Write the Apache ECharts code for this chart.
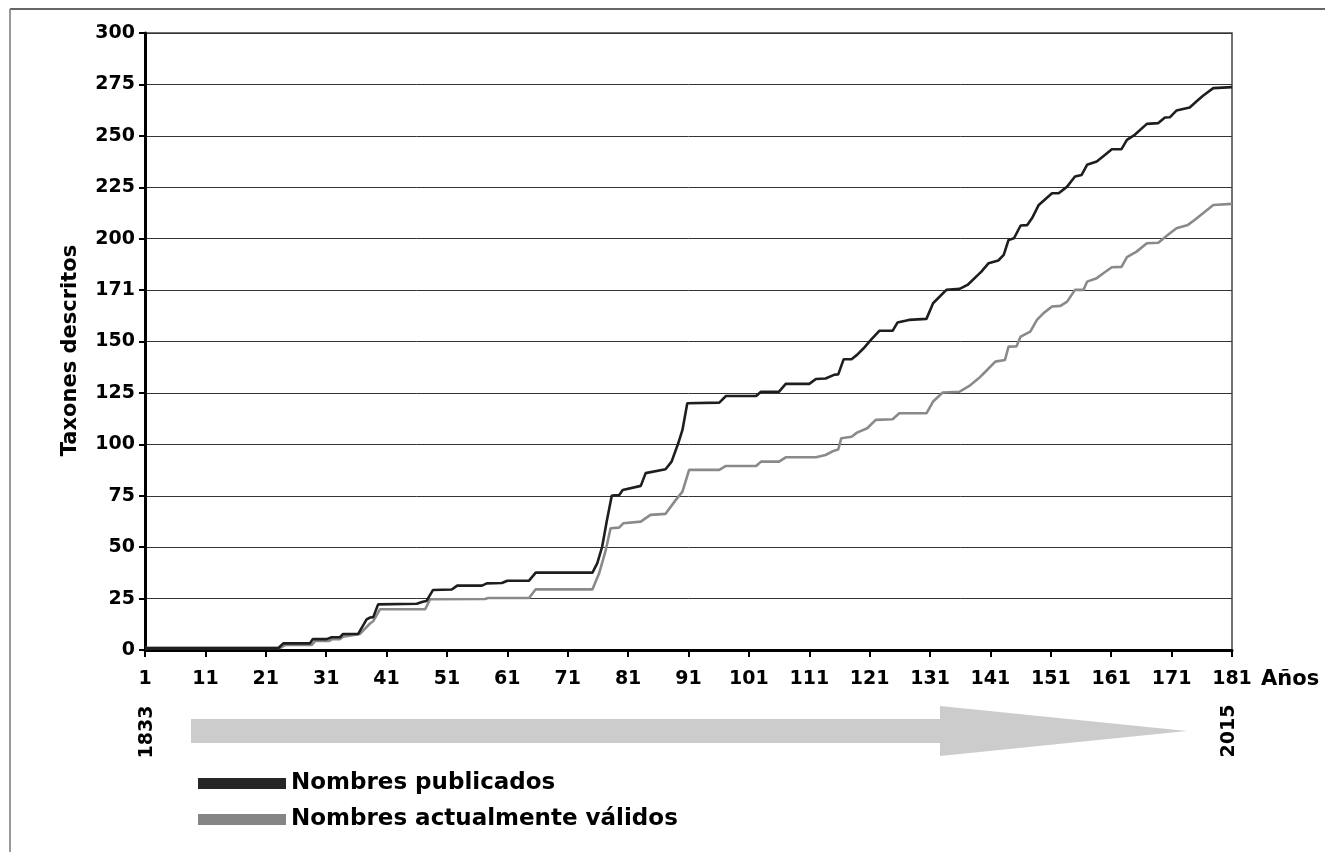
<!DOCTYPE html>
<html>
<head>
<meta charset="utf-8">
<script src="https://cdn.jsdelivr.net/npm/echarts@6/dist/echarts.min.js"></script>
<style>
html,body{margin:0;padding:0;background:#fff;}
#chart{width:1325px;height:852px;}
</style>
</head>
<body>
<div id="chart"></div>
<script>
// Year index (1 = 1833 ... 181) and cumulative taxa
const publicadosYears = [1,23.1,23.9,28.3,28.8,31.1,31.9,33.3,33.8,36.3,37.7,38.3,38.8,39.6,46,47,47.6,48.7,51.8,52.7,56.8,57.6,60.1,61,64.6,65.7,75.1,75.9,76.7,77.5,78.3,79.5,80.1,83.1,83.9,87.2,88.2,89.3,90,90.8,96.1,97.2,102.2,103,106,107.1,111,112.1,113.7,115.1,115.8,116.7,118,118.9,120,121.2,122.6,124.8,125.6,127.5,130.4,131.5,133.7,135.9,137.2,139.5,140.7,142.3,143.2,144,144.9,146,147.1,147.9,149,151.2,152.3,153.7,155,156.1,157,158.6,160,161.1,162.7,163.6,164.9,166.9,168.8,169.9,170.7,171.8,174,175.1,176.2,177.9,181];
const publicadosValues = [1,1,3.2,3.2,5.3,5.3,6.2,6.2,7.8,7.8,14.9,15.8,16,22.2,22.5,23.5,23.8,29.2,29.4,31.3,31.3,32.4,32.6,33.7,33.7,37.6,37.6,42.2,50.2,63.2,75.1,75.3,77.8,79.8,86,87.9,91.6,100.5,107,120,120.3,123.5,123.5,125.6,125.6,129.4,129.4,131.8,132,133.8,134,141.4,141.4,143.5,146.7,150.8,155.2,155.2,159.2,160.5,161,168.6,175.1,175.6,177.5,184,188.1,189.4,192.1,199.4,200.2,206.4,206.6,210,216.4,222.1,222.1,225.3,230.2,231,235.9,237.5,240.8,243.5,243.5,248,250.5,255.8,256.2,258.9,259,262.3,263.8,266.7,269.5,273.2,273.7];

const validosYears = [1,23.4,24.2,28.6,29.2,31.5,32,33.3,33.8,36.6,38.3,38.8,39.9,47.4,48.2,57.3,57.8,64.6,65.7,75.1,76.2,77.3,78.1,79.5,80.2,83.1,84.7,87.2,88.9,90,91.1,96.1,97.2,102.2,103,106,107.1,112.1,113.7,115.1,115.8,116.3,118,118.9,120.6,122,124.8,125.9,130.4,131.5,133.1,135.9,137.5,139.1,140.2,141.8,143.4,144,145.3,146,147.6,148.7,149.8,151.2,152.6,153.7,155,156.4,157,158.6,159.7,161.1,162.7,163.6,165.2,166.9,168.8,170.2,171.8,173.7,174.8,176.2,177.9,181];
const validosValues = [1,1,2.4,2.4,4.4,4.4,5.3,5.3,6.5,7.8,13,14,19.8,19.8,24.7,24.8,25.3,25.3,29.5,29.5,37.3,48.6,59.2,59.5,61.6,62.4,65.7,66.2,73,77,87.6,87.6,89.5,89.5,91.6,91.6,93.7,93.7,94.8,96.9,97.5,103,103.7,105.7,107.8,111.9,112.2,115.1,115.1,120.8,125.2,125.6,128.4,132.2,135.4,140.2,141,147.5,147.6,152.4,154.8,160.5,163.8,167,167.3,169.4,175.1,175.1,179.1,180.8,183.2,186.1,186.3,191,193.7,197.8,198,201.4,205.1,206.7,209.1,212.4,216.4,216.9];

const xTickLabels = ['1','11','21','31','41','51','61','71','81','91','101','111','121','131','141','151','161','171','181'];
const yTickLabels = ['0','25','50','75','100','125','150','171','200','225','250','275','300'];
const seriesNames = ['Nombres publicados','Nombres actualmente válidos'];
const startYear = '1833', endYear = '2015';

const FONT = 'DejaVu Sans';
const chart = echarts.init(document.getElementById('chart'), null, {renderer:'canvas'});

function pairs(xs, ys){ return xs.map((x,i)=>[x-1, ys[i]]); }

chart.setOption({
  animation:false,
  backgroundColor:'#fff',
  textStyle:{fontFamily:FONT},
  grid:{left:145, right:93, top:33, bottom:202, show:true, borderColor:'#444', borderWidth:1.5, backgroundColor:'transparent'},
  xAxis:{
    type:'value', min:0, max:180, interval:10,
    axisLine:{show:true, onZero:false, lineStyle:{color:'#000', width:3}},
    axisTick:{show:true, length:7, lineStyle:{color:'#000', width:2}},
    axisLabel:{margin:20, color:'#000', fontSize:19, fontWeight:'bold', fontFamily:FONT,
      formatter:(v)=>xTickLabels[Math.round(v/10)]},
    splitLine:{show:false}
  },
  yAxis:{
    type:'value', min:0, max:300, interval:25,
    name:'Taxones descritos', nameLocation:'middle', nameGap:64, nameRotate:90,
    nameTextStyle:{color:'#000', fontSize:21, fontWeight:'bold', fontFamily:FONT, padding:[0,18,0,0]},
    axisLine:{show:true, lineStyle:{color:'#000', width:3}},
    axisTick:{show:true, length:6, lineStyle:{color:'#000', width:2}},
    axisLabel:{margin:10, color:'#000', fontSize:19, fontWeight:'bold', fontFamily:FONT,
      formatter:(v)=>yTickLabels[Math.round(v/25)]},
    splitLine:{show:true, lineStyle:{color:'#333', width:1}}
  },
  legend:{
    orient:'vertical', left:193, top:766, itemWidth:88, itemHeight:11, itemGap:11,
    icon:'rect',
    textStyle:{color:'#000', fontSize:23, fontWeight:'bold', fontFamily:FONT, lineHeight:25},
    data:seriesNames
  },
  series:[
    {name:seriesNames[0], type:'line', data:pairs(publicadosYears, publicadosValues), symbol:'none',
     lineStyle:{color:'#1e1e1e', width:2.6}, itemStyle:{color:'#262626'}, z:3},
    {name:seriesNames[1], type:'line', data:pairs(validosYears, validosValues), symbol:'none',
     lineStyle:{color:'#8a8a8a', width:2.6}, itemStyle:{color:'#858585'}, z:2}
  ],
  graphic:[
    {type:'line', shape:{x1:10, y1:9, x2:1325, y2:9}, style:{stroke:'#333', lineWidth:1.5}},
    {type:'line', shape:{x1:10, y1:9, x2:10, y2:852}, style:{stroke:'#777', lineWidth:1.5}},
    {type:'polygon', shape:{points:[[191,719],[940,719],[940,706],[1187,731],[940,756],[940,743],[191,743]]},
     style:{fill:'#cccccc'}},
    {type:'text', x:1261, y:680, style:{text:'Años', fill:'#000', font:'bold 21px "DejaVu Sans"', textVerticalAlign:'middle'}},
    {type:'text', x:147, y:732, rotation:Math.PI/2, style:{text:startYear, fill:'#000', font:'bold 19px "DejaVu Sans"', textAlign:'center', textVerticalAlign:'middle'}},
    {type:'text', x:1229, y:731, rotation:Math.PI/2, style:{text:endYear, fill:'#000', font:'bold 19px "DejaVu Sans"', textAlign:'center', textVerticalAlign:'middle'}}
  ]
});
</script>
</body>
</html>
